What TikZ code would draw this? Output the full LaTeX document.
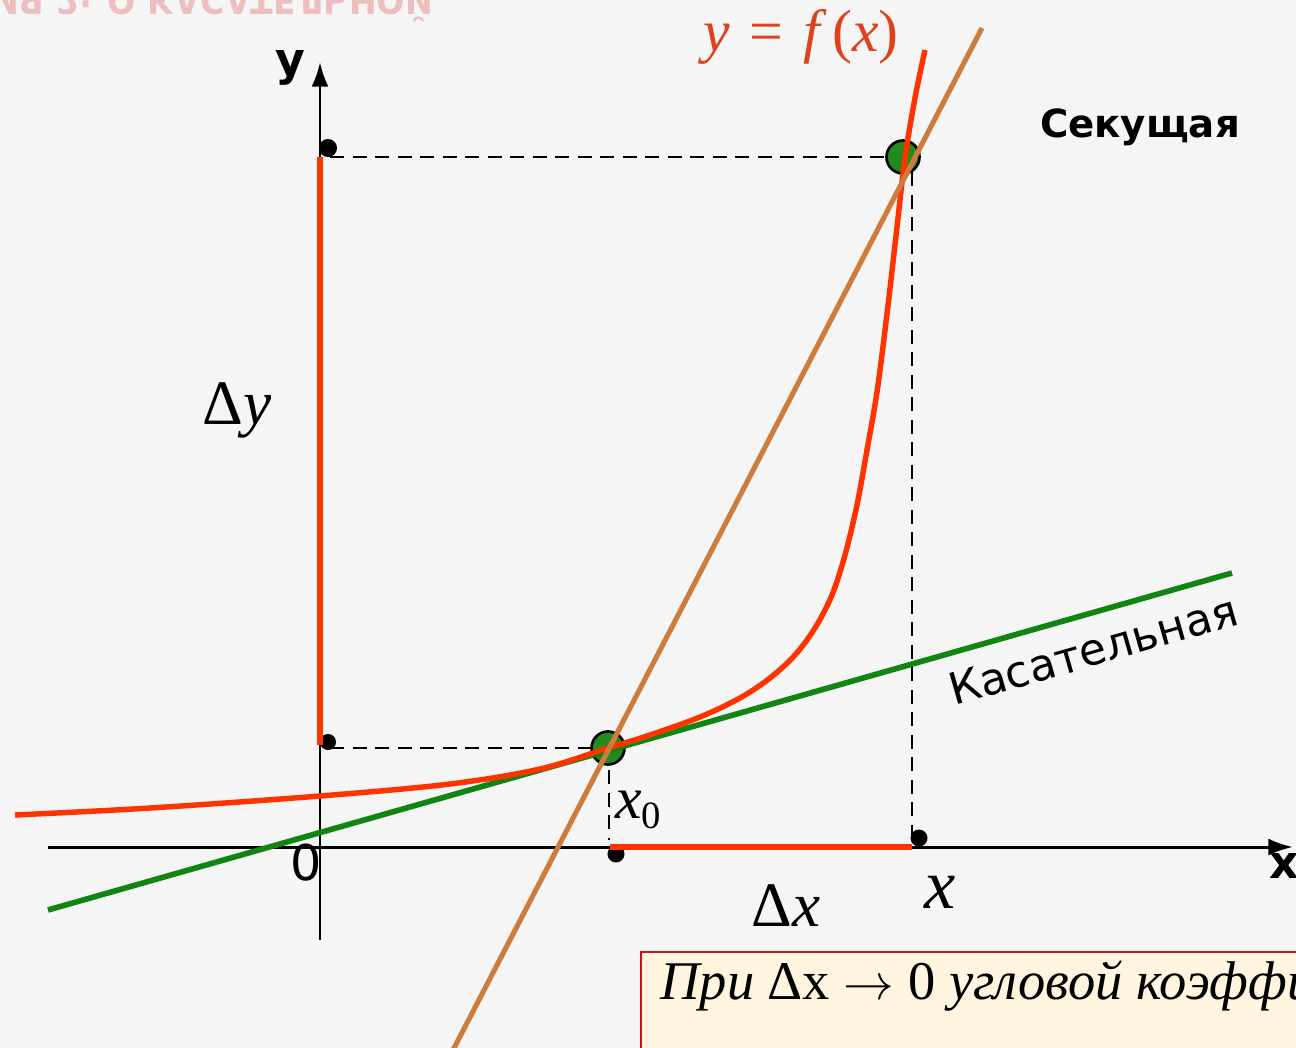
\documentclass[tikz,border=0pt]{standalone}
\usepackage{fontspec}
\setmainfont{Liberation Serif}
\setsansfont{DejaVu Sans}
\usetikzlibrary{arrows.meta, math}
\definecolor{myred}{RGB}{255, 51, 0}
\definecolor{mygreen}{RGB}{18, 132, 18}
\definecolor{mybrown}{RGB}{206, 124, 60}
\definecolor{dotgreen}{RGB}{32, 140, 32}
\definecolor{labelred}{RGB}{222, 66, 28}
\definecolor{boxfill}{RGB}{255, 244, 222}
\definecolor{boxred}{RGB}{205, 20, 20}
\definecolor{bggray}{RGB}{245, 245, 245}
\definecolor{titlepink}{RGB}{236, 190, 190}

\begin{document}
\begin{tikzpicture}[x=0.01cm, y=-0.01cm,
  axis/.style={-{Latex[length=7pt,width=4.8pt]}, line width=0.85pt},
  helper/.style={dash pattern=on 4pt off 2.4pt, line width=0.8pt},
  bigdot/.style={fill=dotgreen, draw=black, line width=0.75pt},
  mathlbl/.style={font=\fontsize{18}{18}\selectfont},
  sanslbl/.style={font=\sffamily\bfseries\fontsize{13}{13}\selectfont}]
\tikzmath{
\W=1296;
\H=1048;
\ox=320;
\oy=847;
}
\useasboundingbox (0,0) rectangle (\W,\H);
\clip (0,0) rectangle (\W,\H);
\fill[bggray] (0,0) rectangle (\W,\H);

\node[xscale=0.9, yscale=-1, anchor=base west, text=titlepink, font=\sffamily\bfseries\fontsize{10.5}{10.5}\selectfont]
  (title) at (-20,-13) {ИЯ 2: О КАСАТЕЛЬНОЙ};

\coordinate (O) at (\ox,\oy);
\coordinate (P0) at (608,748);
\coordinate (P1) at (903,157);
\coordinate (Xs) at (48,\oy);
\coordinate (Xe) at (1293,\oy);
\coordinate (Ys) at (\ox,940);
\coordinate (Ye) at (\ox,62);
\coordinate (Y0) at (\ox,745);
\coordinate (Y1) at (\ox,157);
\coordinate (X0) at (610,\oy);
\coordinate (X1) at (912,\oy);

% dashed helpers
\coordinate (h1a) at (330,157); \coordinate (h1b) at (890,157);
\coordinate (h2a) at (912,172); \coordinate (h2b) at (912,838);
\coordinate (h3a) at (330,748); \coordinate (h3b) at (592,748);
\coordinate (h4a) at (609,770); \coordinate (h4b) at (609,840);
\draw[helper] (h1a) -- (h1b);
\draw[helper] (h2a) -- (h2b);
\draw[helper] (h3a) -- (h3b);
\draw[helper] (h4a) -- (h4b);

\fill (328,148) circle (0.09cm);
\fill (328,742) circle (0.08cm);
\fill (616,854) circle (0.085cm);
\fill (919,838) circle (0.085cm);

\draw[axis] (Xs) -- (Xe);
\draw[axis] (Ys) -- (Ye);
\node[sanslbl] (xl) at (1284,866) {x};
\node[sanslbl] (yl) at (290,68) {y};
\node[font=\sffamily\fontsize{14}{14}\selectfont] (zero) at (306,863) {0};

\draw[myred, line width=1.7pt] (Y0) -- (Y1);
\draw[myred, line width=1.7pt] (X0) -- (X1);

\draw[bigdot] (P0) circle (0.165cm);
\draw[bigdot] (P1) circle (0.165cm);

% tangent, curve, secant
\coordinate (Ta) at (48,910);
\coordinate (Tb) at (1232,573);
\draw[mygreen, line width=1.6pt] (Ta) -- (Tb);
\draw[myred, line width=1.55pt] plot[smooth, tension=0.55] coordinates {
  (15,815) (150,808) (320,796) (450,784) (540,769) (608,748) (650,735)
  (700,717) (740,698) (770,678) (795,655) (815,628) (832,595) (845,555)
  (857,505) (867,450) (877,392) (887,314) (896,236) (905,158) (915,98)
  (925,50)};
\coordinate (Sa) at (452,1052);
\coordinate (Sb) at (982,28);
\draw[mybrown, line width=1.45pt] (Sa) -- (Sb);

\node[text=labelred, font=\fontsize{17}{17}\selectfont] (fx) at (801,37)
  {\textit{y}\,\,=\,\,\textit{f}\kern1.5pt(\textit{x})};
\node[font=\sffamily\bfseries\fontsize{11}{11}\selectfont] (sec) at (1140,127) {Секущая};
\node[font=\sffamily\fontsize{12.5}{12.5}\selectfont, rotate=15.9] (tan) at (1093,650) {Касательная};
\node[mathlbl] (dy) at (237,410) {Δ\textit{y}};
\node[mathlbl] (dx) at (786,906) {Δ\textit{x}};
\node[font=\fontsize{20}{20}\selectfont] (xx) at (940,892) {\textit{x}};
\node[font=\fontsize{17}{17}\selectfont, anchor=west] (x0) at (603,810)
  {\textit{x}\raisebox{-0.35ex}{\fontsize{11}{11}\selectfont 0}};

\coordinate (Ba) at (641,952);
\coordinate (Bb) at (1320,1070);
\draw[boxred, line width=0.7pt, fill=boxfill] (Ba) rectangle (Bb);
\node[anchor=base west, font=\fontsize{15.5}{15.5}\selectfont] (note) at (648,999)
  {\textit{При} Δx $\rightarrow$ 0 \textit{угловой коэффициент секущей}};
\end{tikzpicture}
\end{document}
